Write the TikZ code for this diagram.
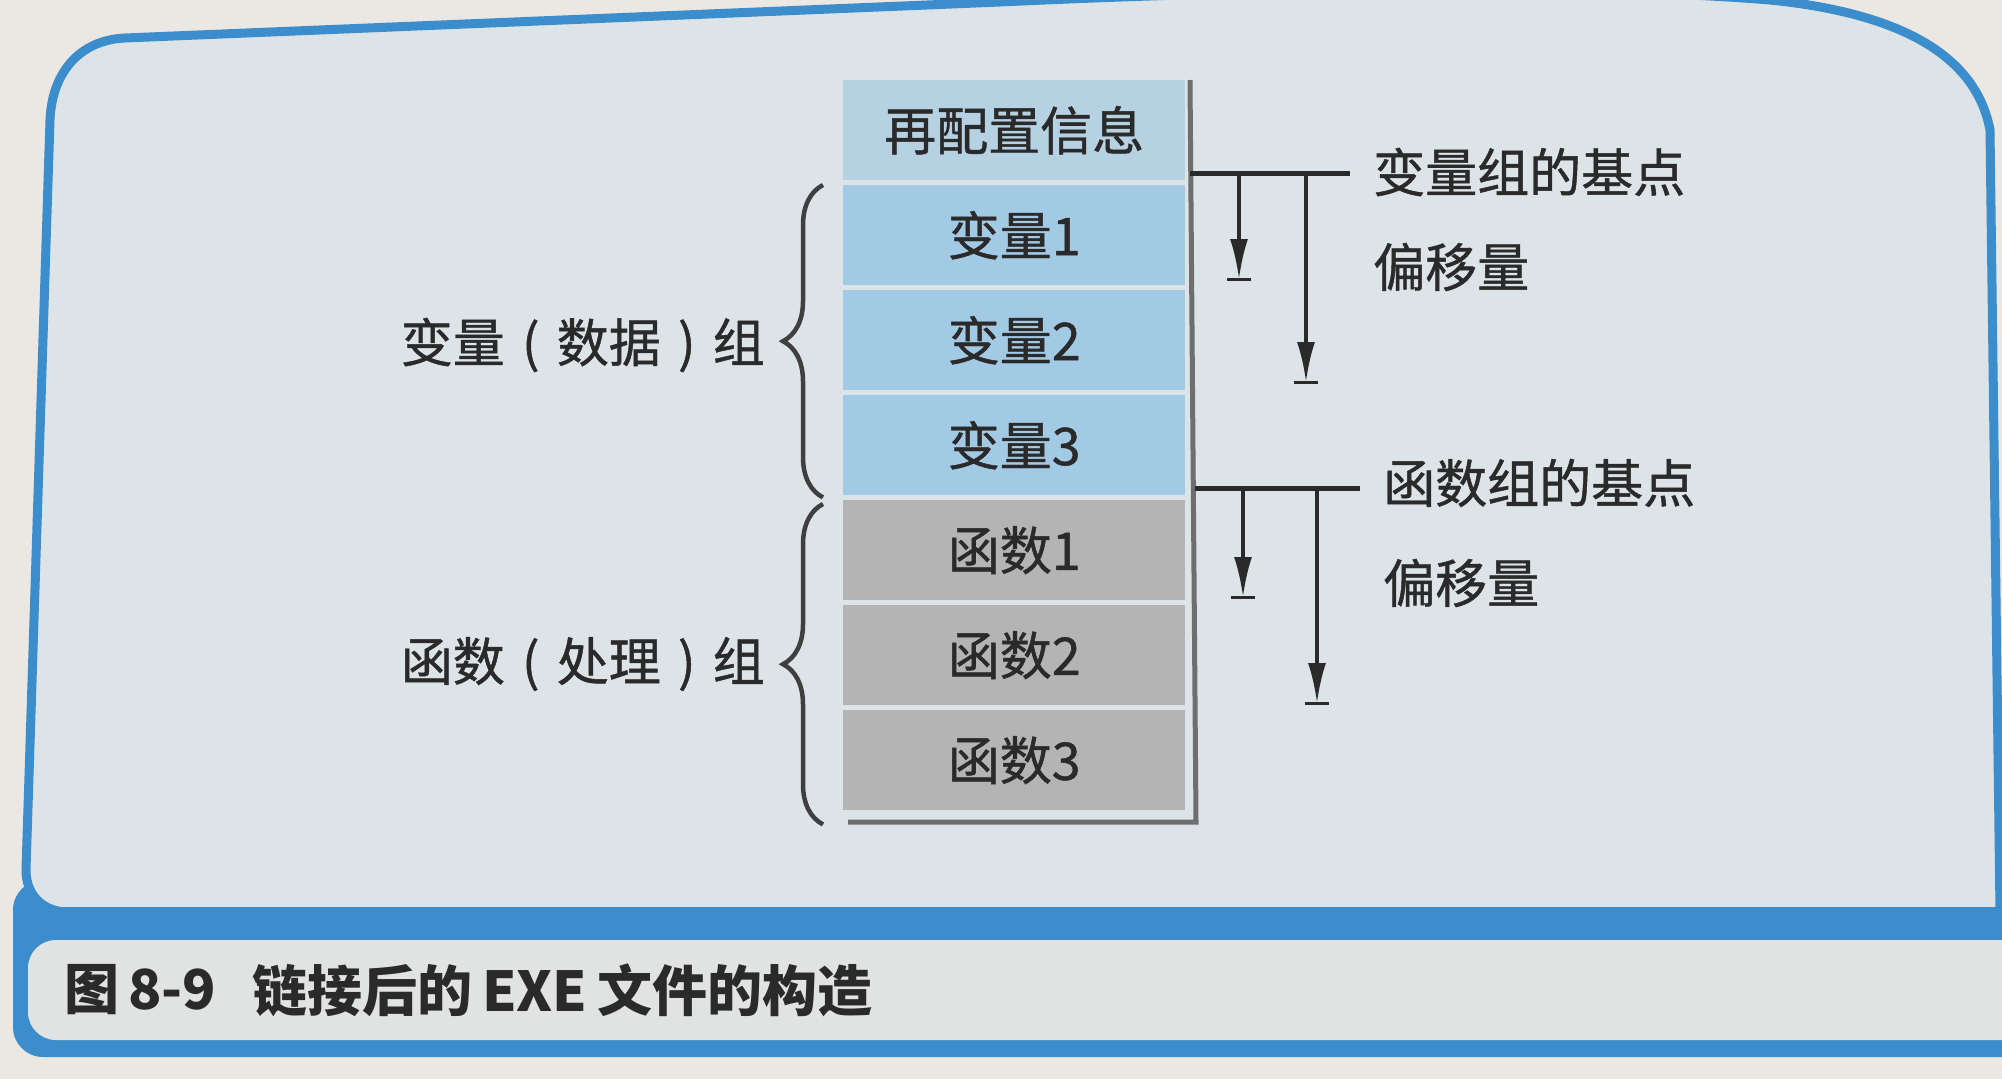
\documentclass[tikz,border=0pt]{standalone}
\usepackage{fontspec}
\newfontfamily\cjk[BoldFont={Noto Sans CJK SC}, BoldFeatures={FakeBold=0.9}]{Noto Sans CJK SC}
\newfontfamily\cjkcap{Noto Sans CJK SC}
\usetikzlibrary{arrows.meta,decorations.pathreplacing,calc}

\definecolor{page}{HTML}{EBE7E3}
\definecolor{panel}{HTML}{DDE4E7}
\definecolor{capfill}{HTML}{E1E3E3}
\definecolor{frameblue}{HTML}{3C8DCB}
\definecolor{toprow}{HTML}{B6D1E2}
\definecolor{varrow}{HTML}{A3CAE5}
\definecolor{funrow}{HTML}{B4B4B4}
\definecolor{ink}{HTML}{2A2A2A}
\definecolor{rulegray}{HTML}{6E6E6E}

\begin{document}
\begin{tikzpicture}[x=1pt,y=-1pt,
  lbl/.style={font=\cjk\bfseries\fontsize{52}{60}\selectfont, text=ink, inner sep=0pt},
  cell/.style={minimum width=342pt, minimum height=100pt, inner sep=0pt, anchor=north west,
               font=\cjk\bfseries\fontsize{52}{60}\selectfont, text=ink},
  varcell/.style={cell, fill=varrow},
  funcell/.style={cell, fill=funrow},
  grpbrace/.style={decorate, decoration={brace, amplitude=40pt, aspect=0.5}, line width=4.5pt, draw=ink!90},
  baseln/.style={line width=5pt, draw=ink},
  offarrow/.style={line width=3.5pt, draw=ink, -{Latex[length=40pt,width=18pt]}},
  endbar/.style={line width=3pt, draw=ink},
  blockrule/.style={line width=5pt, draw=rulegray},
  caption/.style={font=\cjkcap\bfseries\fontsize{55}{62}\selectfont, text=ink, inner sep=0pt, anchor=west}
]
\useasboundingbox (0,0) rectangle (2002,1079);
\clip (0,0) rectangle (2002,1079);
% page and frame
\fill[page] (0,0) rectangle (2002,1079);
\fill[frameblue, rounded corners=30pt] (13,880) rectangle (2060,1057);
\fill[capfill, rounded corners=28pt] (28,940) rectangle (2060,1040);
\path[fill=panel, draw=frameblue, line width=9pt]
  (2000,912) -- (68,912) .. controls (44,912) and (26,896) .. (26,870)
  -- (50,120) .. controls (52,72) and (80,40) .. (125,38)
  -- (1000,2) .. controls (1300,-12) and (1600,-14) .. (1770,0)
  .. controls (1890,12) and (1975,50) .. (1990,130) -- (2000,912);
\fill[frameblue] (13,907) rectangle (2060,940);

% block rows
\node[cell, fill=toprow] (r0) at (843,80) {再配置信息};
\node[varcell] (r1) at (843,185) {变量1};
\node[varcell] (r2) at (843,290) {变量2};
\node[varcell] (r3) at (843,395) {变量3};
\node[funcell] (r4) at (843,500) {函数1};
\node[funcell] (r5) at (843,605) {函数2};
\node[funcell] (r6) at (843,710) {函数3};

% block outline rules
\coordinate (rt) at (1190,80);
\coordinate (rb) at (1196,822);
\coordinate (lb) at (848,822);
\draw[blockrule] (rt) -- (rb) -- (lb);

% braces and group labels
\draw[grpbrace] ($(r3.south west)+(-20,2)$) -- ($(r1.north west)+(-20,0)$);
\node[lbl, anchor=east] (g1) at (765,345) {变量\makebox[1em]{(}数据\makebox[1em]{)}组};
\draw[grpbrace] ($(r6.south west)+(-20,14)$) -- ($(r4.north west)+(-20,4)$);
\node[lbl, anchor=east] (g2) at (765,664) {函数\makebox[1em]{(}处理\makebox[1em]{)}组};

% variable group base and offsets
\coordinate (v0) at (1190,173);
\coordinate (v1) at (1350,173);
\node[lbl, anchor=west] (vb) at (1373,172) {变量组的基点};
\node[lbl, anchor=west] (vo) at (1373,267) {偏移量};
\draw[baseln] (v0) -- (v1);
\coordinate (a1s) at (1239,173);
\coordinate (a1e) at (1239,279);
\coordinate (a2s) at (1306,173);
\coordinate (a2e) at (1306,382);
\draw[offarrow] (a1s) -- (a1e);
\draw[offarrow] (a2s) -- (a2e);
\draw[endbar] (a1e) ++(-12,0) -- ++(24,0);
\draw[endbar] (a2e) ++(-12,0) -- ++(24,0);

% function group base and offsets
\coordinate (f0) at (1195,488);
\coordinate (f1) at (1360,488);
\node[lbl, anchor=west] (fb) at (1383,483) {函数组的基点};
\node[lbl, anchor=west] (fo) at (1383,583) {偏移量};
\draw[baseln] (f0) -- (f1);
\coordinate (a3s) at (1243,488);
\coordinate (a3e) at (1243,597);
\coordinate (a4s) at (1317,488);
\coordinate (a4e) at (1317,703);
\draw[offarrow] (a3s) -- (a3e);
\draw[offarrow] (a4s) -- (a4e);
\draw[endbar] (a3e) ++(-12,0) -- ++(24,0);
\draw[endbar] (a4e) ++(-12,0) -- ++(24,0);

% caption
\node[caption] (capno) at (64,990) {图\,8-9};
\node[caption] (captxt) at (252,990) {链接后的\hspace{10pt}EXE\hspace{10pt}文件的构造};
\end{tikzpicture}
\end{document}
